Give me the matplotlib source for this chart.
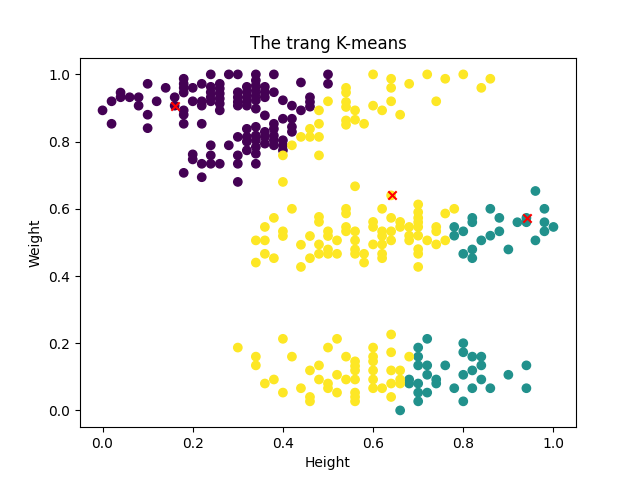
import matplotlib
matplotlib.use("Agg")
import matplotlib.pyplot as plt
import numpy as np

# cluster 0 (purple): (height, [weights])
cluster0 = [
    (0.00, [0.893]),
    (0.02, [0.92, 0.853]),
    (0.04, [0.946, 0.932]),
    (0.06, [0.932]),
    (0.08, [0.932, 0.907]),
    (0.10, [0.972, 0.88, 0.84]),
    (0.12, [0.92]),
    (0.14, [0.96]),
    (0.16, [0.932, 0.907]),
    (0.18, [0.987, 0.972, 0.96, 0.946, 0.893, 0.88, 0.853, 0.707]),
    (0.20, [0.96, 0.92, 0.762, 0.747]),
    (0.22, [0.972, 0.92, 0.907, 0.853, 0.734, 0.694]),
    (0.24, [1.0, 0.963, 0.947, 0.932, 0.92, 0.789, 0.759, 0.734]),
    (0.26, [0.972, 0.958, 0.943, 0.928, 0.913, 0.893, 0.734]),
    (0.28, [1.0, 0.789]),
    (0.30, [1.0, 0.947, 0.932, 0.918, 0.907, 0.814, 0.759, 0.734, 0.68]),
    (0.32, [0.963, 0.947, 0.932, 0.918, 0.907, 0.838, 0.814, 0.8, 0.774]),
    (0.34, [1.0, 0.982, 0.967, 0.952, 0.937, 0.923, 0.898, 0.844, 0.818, 0.804, 0.784, 0.764, 0.734]),
    (0.36, [0.963, 0.947, 0.932, 0.878, 0.829, 0.814, 0.794]),
    (0.38, [1.0, 0.947, 0.853, 0.838, 0.818, 0.804, 0.789]),
    (0.40, [0.923, 0.868, 0.804, 0.789, 0.774]),
    (0.42, [0.907, 0.868, 0.844, 0.829]),
    (0.44, [0.976, 0.893]),
    (0.46, [0.932, 0.918, 0.904]),
    (0.50, [1.0, 0.972]),
]

# cluster 1 (teal)
cluster1 = [
    (0.66, [0.0]),
    (0.68, [0.092, 0.08]),
    (0.70, [0.187, 0.16, 0.134, 0.08, 0.053, 0.027]),
    (0.72, [0.213, 0.134, 0.106, 0.053]),
    (0.74, [0.092, 0.08]),
    (0.76, [0.134]),
    (0.78, [0.546, 0.52, 0.066]),
    (0.80, [0.533, 0.466, 0.2, 0.173, 0.106, 0.027]),
    (0.82, [0.573, 0.56, 0.479, 0.453, 0.16, 0.119, 0.066]),
    (0.84, [0.506, 0.16, 0.134, 0.092]),
    (0.86, [0.60, 0.52, 0.066]),
    (0.88, [0.573, 0.533]),
    (0.90, [0.479, 0.106]),
    (0.92, [0.56]),
    (0.94, [0.573, 0.56, 0.134, 0.066]),
    (0.96, [0.653, 0.506]),
    (0.98, [0.60, 0.56, 0.533]),
    (1.00, [0.546]),
]

# cluster 2 (yellow)
cluster2 = [
    (0.30, [0.187]),
    (0.34, [0.506, 0.44, 0.16, 0.134]),
    (0.36, [0.546, 0.506, 0.466, 0.08]),
    (0.38, [0.573, 0.453, 0.092]),
    (0.40, [0.759, 0.68, 0.533, 0.519, 0.213, 0.053]),
    (0.42, [0.789, 0.60, 0.16]),
    (0.44, [0.814, 0.493, 0.427, 0.066]),
    (0.46, [0.838, 0.814, 0.519, 0.453, 0.119, 0.04, 0.027]),
    (0.48, [0.893, 0.853, 0.814, 0.759, 0.576, 0.561, 0.494, 0.466, 0.134, 0.092]),
    (0.50, [0.92, 0.533, 0.519, 0.479, 0.466, 0.187, 0.08, 0.066]),
    (0.52, [0.506, 0.466, 0.213, 0.106, 0.053]),
    (0.54, [0.96, 0.946, 0.918, 0.903, 0.863, 0.85, 0.60, 0.586, 0.546, 0.533, 0.16, 0.092]),
    (0.56, [0.893, 0.865, 0.667, 0.533, 0.506, 0.479, 0.466, 0.146, 0.132, 0.119, 0.092, 0.053, 0.04, 0.027]),
    (0.58, [0.853, 0.466, 0.44]),
    (0.60, [1.0, 0.907, 0.561, 0.546, 0.494, 0.187, 0.16, 0.146, 0.119, 0.092, 0.066]),
    (0.62, [0.893, 0.60, 0.533, 0.519, 0.494, 0.466, 0.453, 0.066]),
    (0.64, [0.987, 0.96, 0.92, 0.64, 0.573, 0.533, 0.506, 0.226, 0.173, 0.119, 0.08, 0.04]),
    (0.66, [0.88, 0.561, 0.546, 0.119, 0.092, 0.08]),
    (0.68, [0.972, 0.546, 0.52, 0.506, 0.16]),
    (0.70, [0.613, 0.59, 0.573, 0.56, 0.546, 0.52, 0.48, 0.466, 0.427]),
    (0.72, [1.0, 0.506]),
    (0.74, [0.92, 0.546, 0.533, 0.494]),
    (0.76, [0.987, 0.586, 0.506]),
    (0.78, [0.60]),
    (0.80, [1.0]),
    (0.84, [0.96]),
    (0.86, [0.987]),
]

centroid_x = [0.161, 0.941, 0.641]
centroid_y = [0.905, 0.573, 0.640]

xs, ys, labels = [], [], []
for lab, cl in enumerate([cluster0, cluster1, cluster2]):
    for x, yl in cl:
        for y in yl:
            xs.append(x)
            ys.append(y)
            labels.append(lab)

fig, ax = plt.subplots(figsize=(6.4, 4.8), dpi=100)
ax.scatter(xs, ys, c=labels, cmap="viridis", vmin=0, vmax=2)
ax.scatter(centroid_x, centroid_y, marker="x", c="red")
ax.set_title("The trang K-means")
ax.set_xlabel("Height")
ax.set_ylabel("Weight")
fig.savefig("out.png", dpi=100)
